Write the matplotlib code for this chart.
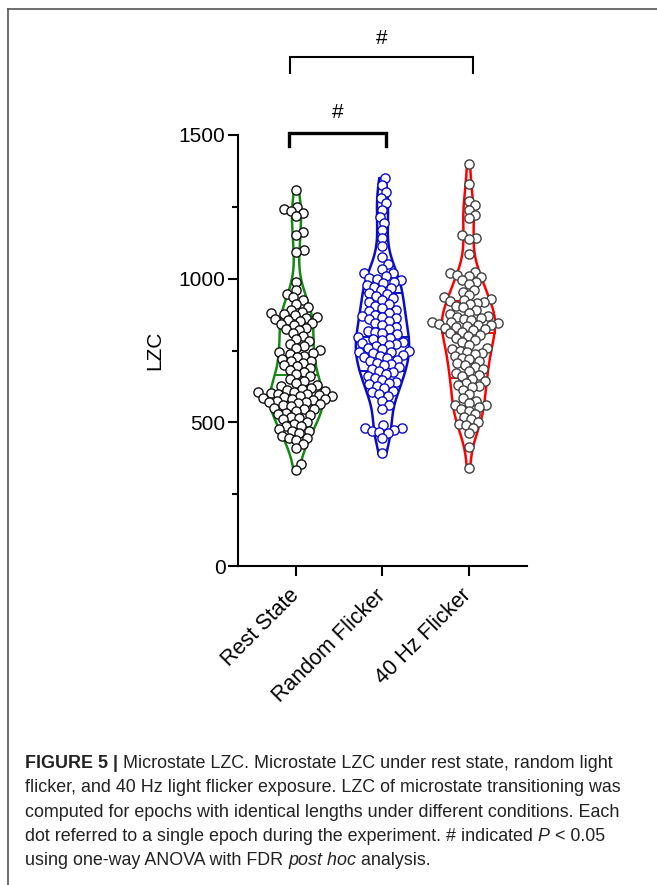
import numpy as np
import matplotlib.pyplot as plt
from matplotlib.lines import Line2D

# LZC values, one list per condition
rest_state = [1310, 1250, 1242, 1235, 1228, 1218, 1162, 1152, 1100, 1092,
              990, 962, 948, 935, 926, 912, 900, 892, 885, 880, 876, 872, 866,
              864, 860, 856, 852, 846, 842, 838, 830, 826, 822, 812, 800, 790,
              782, 772, 765, 758, 752, 746, 740, 738, 732, 728, 722, 715, 712,
              706, 698, 695, 690, 682, 675, 668, 660, 652, 645, 638, 630, 625,
              620, 615, 612, 610, 606, 604, 602, 600, 597, 594, 592, 590, 587,
              584, 582, 580, 577, 574, 572, 570, 566, 563, 560, 556, 551, 548,
              546, 540, 534, 530, 526, 518, 515, 510, 502, 494, 488, 486, 478,
              470, 470, 462, 454, 446, 445, 438, 425, 410, 355, 335]
random_flicker = [1350, 1326, 1300, 1280, 1262, 1240, 1215, 1195, 1170, 1142,
                  1112, 1075, 1050, 1032, 1020, 1018, 1008, 1004, 1000, 996,
                  990, 985, 978, 972, 966, 960, 950, 945, 938, 932, 925, 920,
                  912, 905, 898, 892, 886, 880, 874, 870, 868, 862, 858, 852,
                  845, 840, 832, 825, 818, 815, 812, 806, 798, 795, 790, 786,
                  780, 776, 772, 770, 766, 760, 755, 750, 746, 745, 740, 735,
                  730, 728, 724, 718, 712, 706, 702, 700, 692, 684, 680, 676,
                  668, 660, 656, 646, 640, 636, 632, 625, 618, 610, 604, 598,
                  590, 575, 562, 548, 490, 482, 480, 475, 470, 468, 462, 445, 392]
flicker_40hz = [1400, 1330, 1270, 1255, 1240, 1222, 1210, 1152, 1142, 1138,
                1085, 1022, 1018, 1014, 1010, 1005, 995, 988, 982, 962, 955,
                942, 935, 930, 926, 922, 920, 916, 912, 905, 900, 890, 882, 876,
                870, 866, 862, 860, 855, 850, 848, 846, 843, 840, 838, 835, 832,
                828, 825, 820, 815, 810, 805, 800, 795, 788, 780, 770, 760, 755,
                750, 745, 742, 738, 732, 725, 720, 712, 705, 700, 692, 685, 678,
                672, 665, 660, 652, 645, 638, 630, 628, 622, 612, 598, 585, 575,
                568, 560, 560, 552, 546, 540, 530, 520, 510, 500, 495, 490, 482,
                462, 414, 340]

groups = [rest_state, random_flicker, flicker_40hz]
labels = ['Rest State', 'Random Flicker', '40 Hz Flicker']
violin_colors = ['#138a13', '#0a0ac8', '#ff0000']
dot_edges = ['#111111', '#0a0ac8', '#404040']

# significance brackets: (x1, x2, y_top, y_leg, text_y)
brackets = [(0.91, 2.04, 1507, 1462, 1577),
            (0.92, 3.05, 1771, 1716, 1837)]
bracket_lw = [2.4, 1.5]

plt.rcParams['font.family'] = ['Liberation Sans', 'DejaVu Sans']

fig = plt.figure(figsize=(6.57, 8.85), dpi=100)
ax = fig.add_axes([238 / 657, 319 / 885, 289 / 657, 431 / 885])
ax.set_xlim(0.32, 3.68)
ax.set_ylim(0, 1500)


def kde(vals, grid, bw=0.3):
    sd = np.std(vals, ddof=1) * bw
    z = (grid[:, None] - vals[None, :]) / sd
    return np.exp(-0.5 * z ** 2).sum(1)


def swarm(ypix, d):
    xs = np.zeros(len(ypix))
    placed = []
    for i in np.argsort(ypix):
        y = ypix[i]
        near = [(px, py) for px, py in placed if abs(py - y) < d]
        cands = [0.0]
        for px, py in near:
            dx = np.sqrt(d * d - (py - y) ** 2)
            cands += [px + dx, px - dx]
        cands.sort(key=abs)
        for c in cands:
            if all((c - px) ** 2 + (y - py) ** 2 >= d * d - 1e-6 for px, py in near):
                xs[i] = c
                break
        placed.append((xs[i], y))
    return xs


px_per_x = ax.transData.transform((1, 0))[0] - ax.transData.transform((0, 0))[0]
half_w = 0.31

for i, vals in enumerate(groups):
    pos = i + 1
    v = np.array(vals, dtype=float)
    grid = np.linspace(v.min(), v.max(), 300)
    dens = kde(v, grid)
    dens = dens / dens.max() * half_w
    ax.plot(np.r_[pos - dens, (pos + dens)[::-1], pos - dens[0]],
            np.r_[grid, grid[::-1], grid[0]],
            color=violin_colors[i], lw=1.8, zorder=1)
    for q in np.percentile(v, [25, 50, 75]):
        w = np.interp(q, grid, dens)
        ax.plot([pos - w, pos + w], [q, q], color=violin_colors[i], lw=1.4, zorder=1)
    ypix = ax.transData.transform(np.c_[np.full(len(v), pos), v])[:, 1]
    offs = swarm(ypix, 7.4) / px_per_x
    ax.scatter(pos + offs, v, s=44, facecolor='white', edgecolor=dot_edges[i],
               linewidth=1.0, zorder=3, clip_on=False)

for (x1, x2, yt, yl, ty), lw in zip(brackets, bracket_lw):
    ax.plot([x1, x1, x2, x2], [yl, yt, yt, yl], color='black', lw=lw,
            solid_joinstyle='miter', clip_on=False)
    ax.text((x1 + x2) / 2, ty, '#', ha='center', va='center', fontsize=15)

ax.spines['top'].set_visible(False)
ax.spines['right'].set_visible(False)
ax.spines['left'].set_linewidth(1.5)
ax.spines['bottom'].set_linewidth(1.5)
ax.set_yticks([0, 500, 1000, 1500])
ax.set_yticks([250, 750, 1250], minor=True)
ax.set_xticks([1, 2, 3])
ax.set_xticklabels(labels, rotation=45, ha='right', va='center',
                   rotation_mode='anchor', fontsize=15.5)
ax.tick_params(axis='y', which='major', length=7, width=1.5, labelsize=15, pad=2)
ax.tick_params(axis='y', which='minor', length=4.5, width=1.5)
ax.tick_params(axis='x', length=7, width=1.5, pad=12)
ax.set_ylabel('LZC', fontsize=15, labelpad=10)

# frame around the figure panel
fig.add_artist(Line2D([8 / 657, 1], [1 - 9 / 885, 1 - 9 / 885], color='#555555', lw=1.2))
fig.add_artist(Line2D([8 / 657, 8 / 657], [0, 1 - 9 / 885], color='#555555', lw=1.2))

# caption, drawn piece by piece for bold / italic parts
renderer = fig.canvas.get_renderer()
cap_size = 12.9
caption = [
    [('FIGURE 5 |', 'bold'), (' Microstate LZC. Microstate LZC under rest state, random light', 'normal')],
    [('flicker, and 40 Hz light flicker exposure. LZC of microstate transitioning was', 'normal')],
    [('computed for epochs with identical lengths under different conditions. Each', 'normal')],
    [('dot referred to a single epoch during the experiment. # indicated ', 'normal'),
     ('P', 'italic'), (' < 0.05', 'normal')],
    [('using one-way ANOVA with FDR ', 'normal'), ('post hoc', 'italic'), (' analysis.', 'normal')],
]
for k, parts in enumerate(caption):
    x = 25
    y = 885 - (768 + k * 24.3)
    for txt, style in parts:
        t = fig.text(x / 657, y / 885, txt, fontsize=cap_size, va='baseline', ha='left',
                     fontweight='bold' if style == 'bold' else 'normal',
                     fontstyle='italic' if style == 'italic' else 'normal',
                     color='#222222')
        x += t.get_window_extent(renderer).width

fig.savefig('out.png', dpi=100)
